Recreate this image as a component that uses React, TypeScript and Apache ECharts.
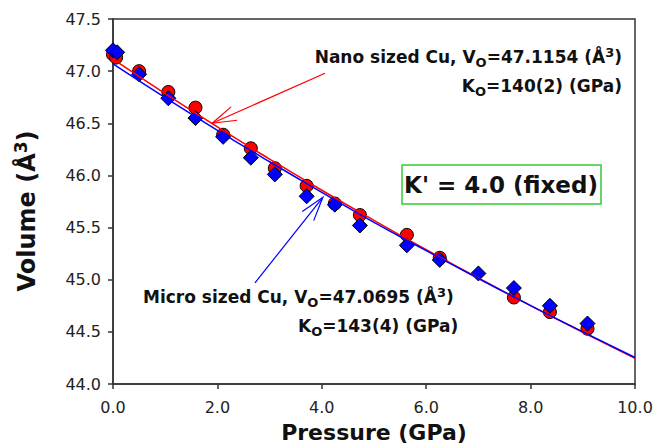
import React, { useEffect, useRef } from "react";
import * as echarts from "echarts";

const xTicks = [0, 2, 4, 6, 8, 10];
const yTicks = [44.0, 44.5, 45.0, 45.5, 46.0, 46.5, 47.0, 47.5];

const nanoP = [0.0, 0.06, 0.5, 1.06, 1.58, 2.11, 2.64, 3.1, 3.71, 4.25, 4.73, 5.63, 6.26, 7.68, 8.37, 9.09];
const nanoV = [47.16, 47.13, 47.0, 46.8, 46.65, 46.39, 46.26, 46.07, 45.9, 45.73, 45.62, 45.43, 45.21, 44.83, 44.69, 44.53];

const microP = [0.0, 0.08, 0.5, 1.06, 1.58, 2.11, 2.64, 3.1, 3.71, 4.25, 4.73, 5.63, 6.26, 7.0, 7.68, 8.37, 9.09];
const microV = [47.2, 47.18, 46.97, 46.74, 46.55, 46.37, 46.17, 46.01, 45.8, 45.72, 45.52, 45.33, 45.19, 45.06, 44.92, 44.75, 44.58];

const fitP = [0, 1, 2, 3, 4, 5, 6, 7, 8, 9, 10];
const nanoFit = [47.115, 46.785, 46.465, 46.157, 45.858, 45.569, 45.288, 45.016, 44.752, 44.496, 44.246];
const microFit = [47.07, 46.746, 46.433, 46.131, 45.838, 45.55, 45.279, 45.012, 44.752, 44.5, 44.254];

// annotation arrows in data coordinates: [start, tip]
const nanoArrow = [[4.06, 46.98], [1.9, 46.5]];
const microArrow = [[2.72, 44.97], [4.02, 45.79]];

const FONT = "DejaVu Sans";

const zip = (a: number[], b: number[]) => a.map((v, i) => [v, b[i]]);

export default function App() {
  const ref = useRef<HTMLDivElement>(null);
  useEffect(() => {
    const chart = echarts.init(ref.current!, null, { renderer: "svg" });
    const option: any = {
      animation: false,
      backgroundColor: "#ffffff",
      grid: {
        left: 113, right: 35, top: 19, bottom: 64, containLabel: false, outerBoundsMode: "none",
        show: true, borderColor: "#333", borderWidth: 1.5,
      },
      xAxis: {
        type: "value",
        min: xTicks[0],
        max: xTicks[xTicks.length - 1],
        interval: 2,
        name: "Pressure (GPa)",
        nameLocation: "middle",
        nameGap: 37,
        nameTextStyle: { fontFamily: FONT, fontWeight: "bold", fontSize: 22, color: "#111" },
        axisLine: { lineStyle: { color: "#333", width: 1.5 } },
        axisTick: { show: true, inside: false, length: 5, lineStyle: { color: "#333", width: 1.5 } },
        axisLabel: { fontFamily: FONT, fontSize: 16, color: "#222", margin: 15, formatter: (v: number) => v.toFixed(1) },
        splitLine: { show: false },
      },
      yAxis: {
        type: "value",
        min: yTicks[0],
        max: yTicks[yTicks.length - 1],
        interval: 0.5,
        axisLine: { lineStyle: { color: "#333", width: 1.5 } },
        axisTick: { show: true, inside: false, length: 5, lineStyle: { color: "#333", width: 1.5 } },
        axisLabel: { fontFamily: FONT, fontSize: 16, color: "#222", margin: 12, formatter: (v: number) => v.toFixed(1) },
        splitLine: { show: false },
      },
      series: [
        {
          type: "scatter", name: "nano", data: zip(nanoP, nanoV), symbol: "circle", symbolSize: 13,
          itemStyle: { color: "#ff0000", borderColor: "#000", borderWidth: 1, opacity: 1 }, z: 2, clip: false,
        },
        {
          type: "scatter", name: "micro", data: zip(microP, microV), symbol: "diamond", symbolSize: 15,
          itemStyle: { color: "#0000ff", borderColor: "#000", borderWidth: 1, opacity: 1 }, z: 3, clip: false,
        },
        {
          type: "line", name: "nanoFit", data: zip(fitP, nanoFit), smooth: true, showSymbol: false,
          lineStyle: { color: "#ff0000", width: 1.5 }, z: 4,
        },
        {
          type: "line", name: "microFit", data: zip(fitP, microFit), smooth: true, showSymbol: false,
          lineStyle: { color: "#0000ff", width: 1.5 }, z: 5,
        },
      ],
    };
    chart.setOption(option);

    const px = (p: number[]) => chart.convertToPixel({ gridIndex: 0 }, p) as number[];
    const arrow = (pts: number[][], color: string) => {
      const s = px(pts[0]);
      const t = px(pts[1]);
      const dx = s[0] - t[0];
      const dy = s[1] - t[1];
      const len = Math.hypot(dx, dy);
      const ux = dx / len, uy = dy / len;
      const L = 25, th = (17 * Math.PI) / 180;
      const rot = (a: number) => [t[0] + L * (ux * Math.cos(a) - uy * Math.sin(a)), t[1] + L * (ux * Math.sin(a) + uy * Math.cos(a))];
      return [
        { type: "line", shape: { x1: s[0], y1: s[1], x2: t[0], y2: t[1] }, style: { stroke: color, lineWidth: 1.2 }, z: 10 },
        { type: "polyline", shape: { points: [rot(th), t, rot(-th)] }, style: { stroke: color, lineWidth: 1.2, fill: null }, z: 10 },
      ];
    };

    const rich = {
      sub: { fontFamily: FONT, fontWeight: "bold", fontSize: 13, fill: "#111", padding: [10, 0, 0, 0] },
      sup: { fontFamily: FONT, fontWeight: "bold", fontSize: 13, fill: "#111", padding: [0, 0, 10, 0] },
    };
    const txt = (x: number, y: number, text: string, align: string) => ({
      type: "text", x, y, z: 20,
      style: {
        text, fontFamily: FONT, fontWeight: "bold", fontSize: 17, fill: "#111",
        align, verticalAlign: "middle", rich,
      },
    });

    chart.setOption({
      graphic: [
        ...arrow(nanoArrow, "#ff0000"),
        ...arrow(microArrow, "#0000ff"),
        txt(622, 57, "Nano sized Cu, V{sub|O}=47.1154 (Å{sup|3})", "right"),
        txt(622, 86, "K{sub|O}=140(2) (GPa)", "right"),
        txt(143, 297, "Micro sized Cu, V{sub|O}=47.0695 (Å{sup|3})", "left"),
        txt(298, 326, "K{sub|O}=143(4) (GPa)", "left"),
        {
          type: "text", x: 27, y: 211, rotation: Math.PI / 2, z: 20,
          style: {
            text: "Volume (Å{sup|3})", fontFamily: FONT, fontWeight: "bold", fontSize: 24, fill: "#111",
            align: "center", verticalAlign: "middle",
            rich: { sup: { fontFamily: FONT, fontWeight: "bold", fontSize: 17, fill: "#111", padding: [0, 0, 13, 0] } },
          },
        },
        {
          type: "rect", z: 20, shape: { x: 402, y: 165, width: 199, height: 39 },
          style: { fill: "#fff", stroke: "#33cc33", lineWidth: 1.5 },
        },
        {
          type: "text", x: 501, y: 185, z: 21,
          style: { text: "K' = 4.0 (fixed)", fontFamily: FONT, fontWeight: "bold", fontSize: 23, fill: "#111", align: "center", verticalAlign: "middle" },
        },
      ],
    });
    return () => chart.dispose();
  }, []);
  return <div ref={ref} style={{ position: "fixed", left: 0, top: 0, width: 670, height: 448 }} />;
}
